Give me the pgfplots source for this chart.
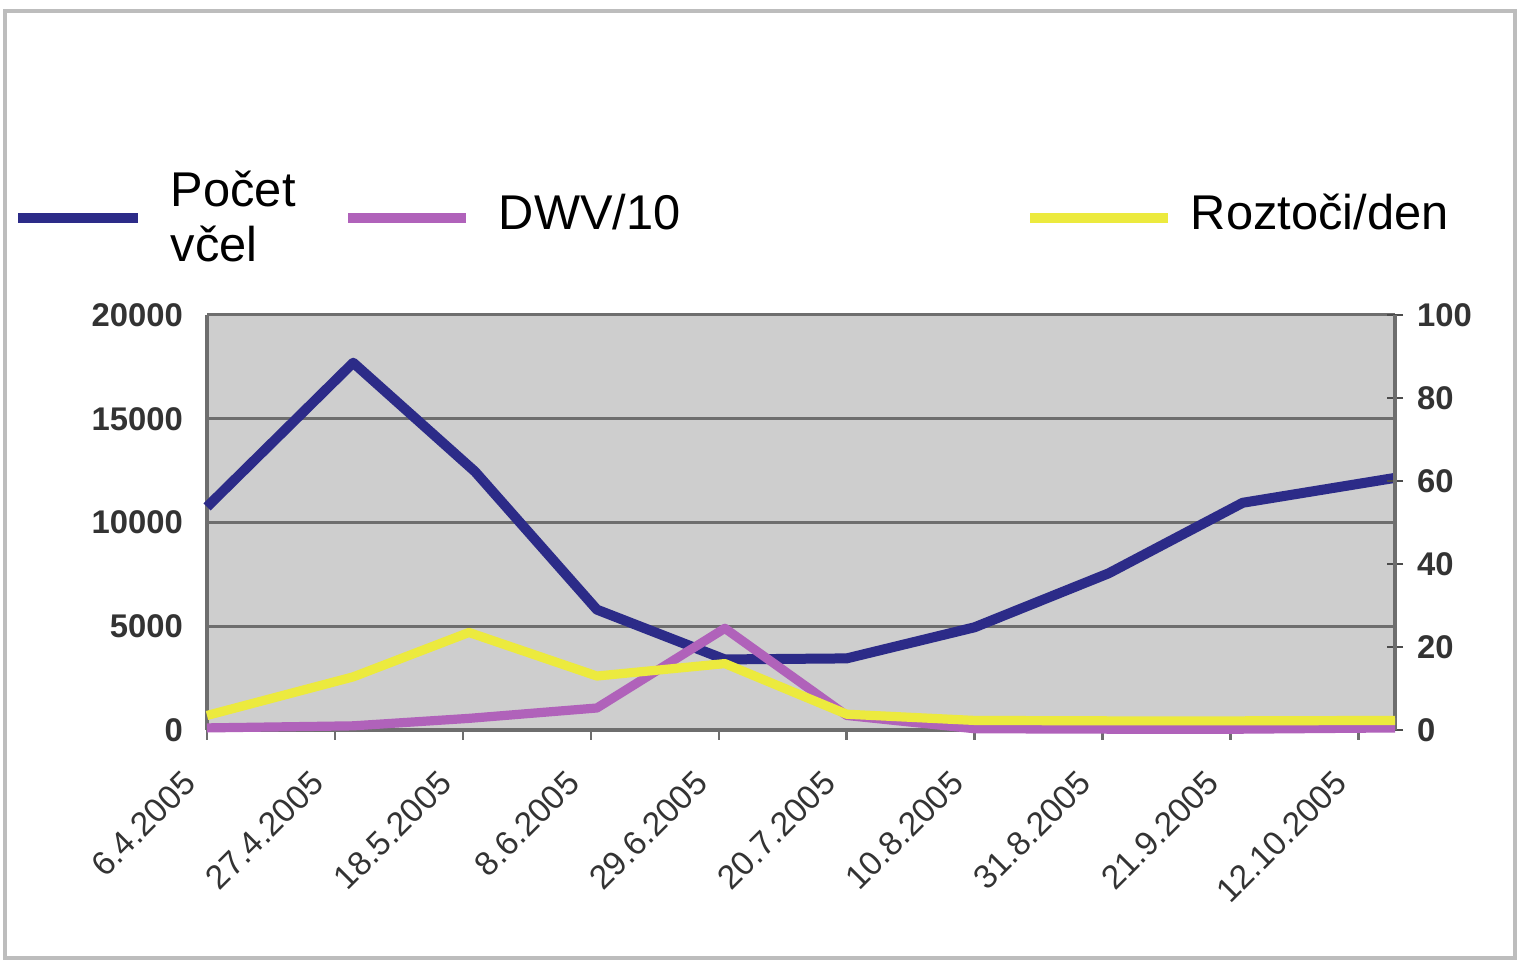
\documentclass[border=0pt]{standalone}
\usepackage{pgfplots}
\pgfplotsset{compat=1.18}
\usepackage{pgfplotstable}
\usepackage{fontspec}
\setmainfont{Liberation Sans}
\definecolor{cblue}{HTML}{2C2B88}
\definecolor{cpurple}{HTML}{B062BA}
\definecolor{cyellow}{HTML}{ECEA3E}
\definecolor{plotbg}{HTML}{CECECE}
\definecolor{gridc}{HTML}{6E6E6E}
\definecolor{framec}{HTML}{BDBDBD}

\pgfplotstableread{
day bees
0 10750
24 17700
44 12450
64 5800
85 3400
105 3450
126 4950
148 7550
170 10950
195 12150
}\beetable

\pgfplotstableread{
day dwv
0 0.5
24 1.0
43 2.8
64 5.3
85 24.5
105 3.5
126 0.3
148 0.2
170 0.2
195 0.5
}\dwvtable

\pgfplotstableread{
day mites
0 3.5
24 12.8
43 23.5
64 13.0
85 16.0
105 3.8
126 2.3
148 2.2
170 2.2
195 2.3
}\mitestable

\newcommand{\PX}[2]{({#1*0.25pt},{240.25pt-#2*0.25pt})}

\begin{document}
\begin{tikzpicture}
\path[use as bounding box] (0,0) rectangle (380.75pt,240.25pt);
\fill[white] (0,0) rectangle (380.75pt,240.25pt);
\draw[framec, line width=1pt] \PX{5}{11} rectangle \PX{1515}{958};

% legend
\draw[cblue, line width=2.5pt] \PX{18}{218} -- \PX{138}{218};
\node[anchor=base west, inner sep=0pt, font=\fontsize{12.2}{13.5}\selectfont] at \PX{170}{207} {Počet};
\node[anchor=base west, inner sep=0pt, font=\fontsize{12.2}{13.5}\selectfont] at \PX{170}{262} {včel};
\draw[cpurple, line width=2.3pt] \PX{348}{218} -- \PX{466}{218};
\node[anchor=base west, inner sep=0pt, font=\fontsize{12.2}{13.5}\selectfont] at \PX{498}{230} {DWV/10};
\draw[cyellow, line width=2.3pt] \PX{1030}{218} -- \PX{1168}{218};
\node[anchor=base west, inner sep=0pt, font=\fontsize{12.2}{13.5}\selectfont] at \PX{1190}{230} {Roztoči/den};

\begin{axis}[
  at={(51.75pt,57.75pt)}, anchor=south west,
  scale only axis, width=297pt, height=103.75pt,
  xmin=0, xmax=195, ymin=0, ymax=20000,
  axis background/.style={fill=plotbg},
  axis x line*=bottom, axis y line*=left,
  axis line style={gridc, line width=0.8pt, -},
  ymajorgrids, grid style={gridc, line width=0.75pt},
  ytick={0,5000,10000,15000,20000},
  scaled y ticks=false,
  /pgf/number format/assume math mode=true,
  /pgf/number format/1000 sep={},
  yticklabel style={font=\bfseries\fontsize{8.2}{9}\selectfont, text=black!80},
  ytick style={draw=none},
  xtick={0,21,42,63,84,105,126,147,168,189},
  xticklabels={6.4.2005,27.4.2005,18.5.2005,8.6.2005,29.6.2005,20.7.2005,10.8.2005,31.8.2005,21.9.2005,12.10.2005},
  xticklabel style={xshift=-4.25pt, yshift=-9.25pt, rotate=45, anchor=east, inner sep=0pt, font=\fontsize{8.4}{9}\selectfont, text=black!80},
  xtick style={gridc, line width=0.6pt},
  tick align=outside, major tick length=2.5pt,
  clip=false,
]
\addplot[cblue, line width=2.5pt, line join=round] table[x=day, y=bees] {\beetable};
\end{axis}

\begin{axis}[
  at={(51.75pt,57.75pt)}, anchor=south west,
  scale only axis, width=297pt, height=103.75pt,
  xmin=0, xmax=195, ymin=0, ymax=100,
  axis x line=none, axis y line*=right,
  axis line style={gridc, line width=0.8pt, -},
  ytick={0,20,40,60,80,100},
  /pgf/number format/assume math mode=true,
  yticklabel style={font=\bfseries\fontsize{8.2}{9}\selectfont, text=black!80},
  ytick style={black!70, line width=0.6pt},
  tick align=center, major tick length=4pt,
  clip=false,
]
\addplot[cpurple, line width=2.3pt, line join=round] table[x=day, y=dwv] {\dwvtable};
\addplot[cyellow, line width=2.3pt, line join=round] table[x=day, y=mites] {\mitestable};
\end{axis}
\end{tikzpicture}
\end{document}
